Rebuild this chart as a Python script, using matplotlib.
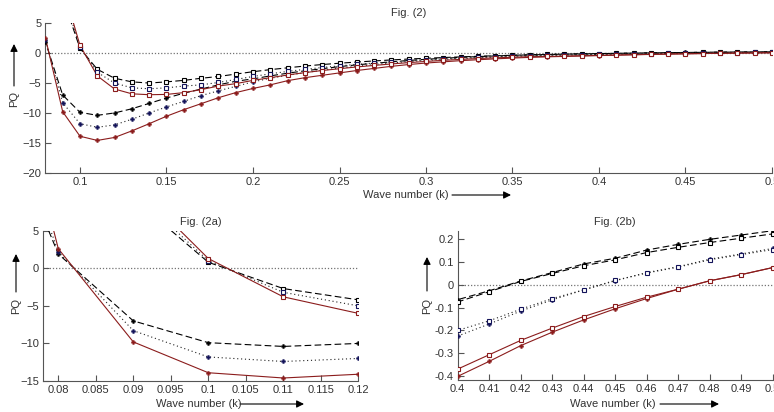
import matplotlib
matplotlib.use("Agg")
import matplotlib.pyplot as plt
import numpy as np

plt.rcParams['font.family'] = ['Liberation Sans', 'DejaVu Sans']

# wave numbers
k_star = [0.07, 0.08, 0.09, 0.10, 0.11, 0.12, 0.13, 0.14, 0.15, 0.16, 0.17, 0.18, 0.19, 0.20,
          0.21, 0.22, 0.23, 0.24, 0.25, 0.26, 0.27, 0.28, 0.29, 0.30, 0.31, 0.32, 0.33, 0.34,
          0.35, 0.36, 0.37, 0.38, 0.39, 0.40, 0.41, 0.42, 0.43, 0.44, 0.45, 0.46, 0.47, 0.48,
          0.49, 0.50]
k_sq = k_star[2:]

# PQ, first family (star markers)
pq_star_dash = [26.0, 1.9, -7.0, -9.9, -10.4, -10.0, -9.3, -8.4, -7.5, -6.7, -6.0, -5.3, -4.7, -4.3,
                -3.8, -3.35, -2.95, -2.6, -2.25, -1.95, -1.7, -1.45, -1.22, -1.02, -0.85, -0.7, -0.57, -0.46,
                -0.36, -0.28, -0.22, -0.16, -0.11, -0.065, -0.026, 0.017, 0.054, 0.092, 0.117, 0.153, 0.178, 0.200,
                0.219, 0.238]
pq_star_dot = [30.0, 2.2, -8.3, -11.8, -12.4, -12.0, -11.05, -10.0, -9.0, -8.05, -7.1, -6.3, -5.55, -4.8,
               -4.2, -3.7, -3.25, -2.85, -2.5, -2.2, -1.9, -1.65, -1.42, -1.22, -1.05, -0.9, -0.76, -0.64,
               -0.54, -0.45, -0.38, -0.32, -0.27, -0.225, -0.172, -0.115, -0.066, -0.022, 0.018, 0.054, 0.080, 0.113,
               0.136, 0.160]
pq_star_solid = [42.0, 2.6, -9.8, -13.9, -14.6, -14.1, -13.0, -11.8, -10.55, -9.45, -8.45, -7.45, -6.6, -5.9,
                 -5.3, -4.6, -4.1, -3.7, -3.3, -2.9, -2.55, -2.2, -1.9, -1.65, -1.45, -1.25, -1.1, -0.95,
                 -0.82, -0.7, -0.61, -0.54, -0.47, -0.402, -0.336, -0.267, -0.208, -0.154, -0.105, -0.060, -0.019, 0.018,
                 0.045, 0.076]

# PQ, second family (square markers)
pq_sq_dash = [9.3, 0.8, -2.7, -4.2, -4.8, -5.0, -4.8, -4.55, -4.2, -3.9, -3.5, -3.1,
              -2.75, -2.45, -2.15, -1.9, -1.68, -1.48, -1.3, -1.13, -0.98, -0.85, -0.73, -0.62, -0.52, -0.43,
              -0.35, -0.28, -0.22, -0.16, -0.11, -0.075, -0.03, 0.015, 0.050, 0.084, 0.110, 0.142, 0.165, 0.186,
              0.205, 0.224]
pq_sq_dot = [10.2, 1.0, -3.2, -5.0, -5.8, -5.95, -5.8, -5.5, -5.3, -4.9, -4.4, -3.9,
             -3.45, -3.05, -2.7, -2.4, -2.12, -1.88, -1.65, -1.45, -1.27, -1.1, -0.95, -0.82, -0.7, -0.59,
             -0.49, -0.41, -0.34, -0.28, -0.24, -0.20, -0.158, -0.107, -0.060, -0.022, 0.020, 0.052, 0.078, 0.110,
             0.133, 0.155]
pq_sq_solid = [11.2, 1.3, -3.8, -6.0, -6.8, -6.95, -6.9, -6.6, -6.1, -5.5, -5.1, -4.55,
               -4.1, -3.65, -3.25, -2.9, -2.6, -2.3, -2.05, -1.8, -1.58, -1.38, -1.2, -1.04, -0.9, -0.78,
               -0.68, -0.59, -0.55, -0.49, -0.43, -0.37, -0.307, -0.244, -0.190, -0.139, -0.095, -0.054, -0.019, 0.018,
               0.045, 0.076]

W, H = 774, 412
fig = plt.figure(figsize=(W / 100, H / 100), dpi=100)


def ax_at(x0, y0, x1, y1):
    return fig.add_axes([x0 / W, 1 - y1 / H, (x1 - x0) / W, (y1 - y0) / H])


ax_top = ax_at(45.4, 23.3, 772.0, 172.7)
ax_a = ax_at(43.3, 230.7, 358.3, 381.0)
ax_b = ax_at(457.7, 230.7, 772.7, 380.0)

RED = '#8b1c1c'
NAVY = '#14145a'
DASH = (0, (6, 3))
DOT = (0, (1, 2.5))

series = [
    (k_star, pq_star_dash, DASH, 'black', 'black', '+'),
    (k_star, pq_star_dot, DOT, '#222222', NAVY, '+'),
    (k_star, pq_star_solid, '-', RED, RED, '+'),
    (k_sq, pq_sq_dash, DASH, 'black', 'black', 's'),
    (k_sq, pq_sq_dot, DOT, '#222222', NAVY, 's'),
    (k_sq, pq_sq_solid, '-', RED, RED, 's'),
]

for ax in (ax_top, ax_a, ax_b):
    ax.axhline(0, color='0.45', ls=(0, (1, 1.5)), lw=0.9, zorder=1)
    for x, y, ls, lc, mc, mk in series:
        ax.plot(x, y, ls=ls, color=lc, lw=0.8, zorder=2)
        if mk == 's':
            ax.plot(x, y, ls='none', marker='s', ms=3.0, mfc='white', mec=mc, mew=0.8, zorder=3)
        else:
            ax.plot(x, y, ls='none', marker='P', ms=3.0, mfc=mc, mec=mc, mew=0.3, zorder=3)
    for side in ('top', 'right'):
        ax.spines[side].set_visible(False)
    for side in ('left', 'bottom'):
        ax.spines[side].set_color('#555555')
        ax.spines[side].set_linewidth(0.8)
    ax.tick_params(direction='in', length=4, width=0.8, color='#555555',
                   labelsize=8, labelcolor='#333333', pad=3)

# overview panel
ax_top.set_xlim(0.08, 0.5)
ax_top.set_ylim(-20, 5)
ax_top.set_xticks([0.1, 0.15, 0.2, 0.25, 0.3, 0.35, 0.4, 0.45, 0.5])
ax_top.set_xticklabels(['0.1', '0.15', '0.2', '0.25', '0.3', '0.35', '0.4', '0.45', '0.5'])
ax_top.set_yticks([-20, -15, -10, -5, 0, 5])
ax_top.set_title('Fig. (2)', fontsize=8, color='#333333', pad=5)

# small-k detail
ax_a.set_xlim(0.078, 0.12)
ax_a.set_ylim(-15, 5)
ax_a.set_xticks([0.08, 0.085, 0.09, 0.095, 0.1, 0.105, 0.11, 0.115, 0.12])
ax_a.set_xticklabels(['0.08', '0.085', '0.09', '0.095', '0.1', '0.105', '0.11', '0.115', '0.12'])
ax_a.set_yticks([-15, -10, -5, 0, 5])
ax_a.set_title('Fig. (2a)', fontsize=8, color='#333333', pad=4)

# large-k detail
ax_b.set_xlim(0.4, 0.5)
ax_b.set_ylim(-0.418, 0.238)
ax_b.set_xticks([0.4, 0.41, 0.42, 0.43, 0.44, 0.45, 0.46, 0.47, 0.48, 0.49, 0.5])
ax_b.set_xticklabels(['0.4', '0.41', '0.42', '0.43', '0.44', '0.45', '0.46', '0.47', '0.48', '0.49', '0.5'])
ax_b.set_yticks([-0.4, -0.3, -0.2, -0.1, 0, 0.1, 0.2])
ax_b.set_yticklabels(['-0.4', '-0.3', '-0.2', '-0.1', '0', '0.1', '0.2'])
ax_b.set_title('Fig. (2b)', fontsize=8, color='#333333', pad=4)


def fx(px):
    return px / W


def fy(py):
    return 1 - py / H


arrow = dict(arrowstyle='-|>', color='black', lw=0.8, mutation_scale=11, shrinkA=0, shrinkB=0)

# x labels with arrows
for cx, y, a0, a1 in [(406, 195, 452, 511), (199, 404, 240, 304), (613, 404, 660, 719)]:
    fig.text(fx(cx), fy(y), 'Wave number (k)', fontsize=8, color='#333333', ha='center', va='center')
    fig.add_artist(matplotlib.patches.FancyArrowPatch((fx(a0), fy(y)), (fx(a1), fy(y)),
                                                      transform=fig.transFigure, **arrow))

# y labels with arrows
for x, cy, a0, a1 in [(14, 99, 86, 44), (16, 306, 292, 254), (427, 306, 291, 257)]:
    fig.text(fx(x), fy(cy), 'PQ', fontsize=8, color='#333333', rotation=90, ha='center', va='center')
    fig.add_artist(matplotlib.patches.FancyArrowPatch((fx(x), fy(a0)), (fx(x), fy(a1)),
                                                      transform=fig.transFigure, **arrow))

fig.savefig('out.png', dpi=100)
